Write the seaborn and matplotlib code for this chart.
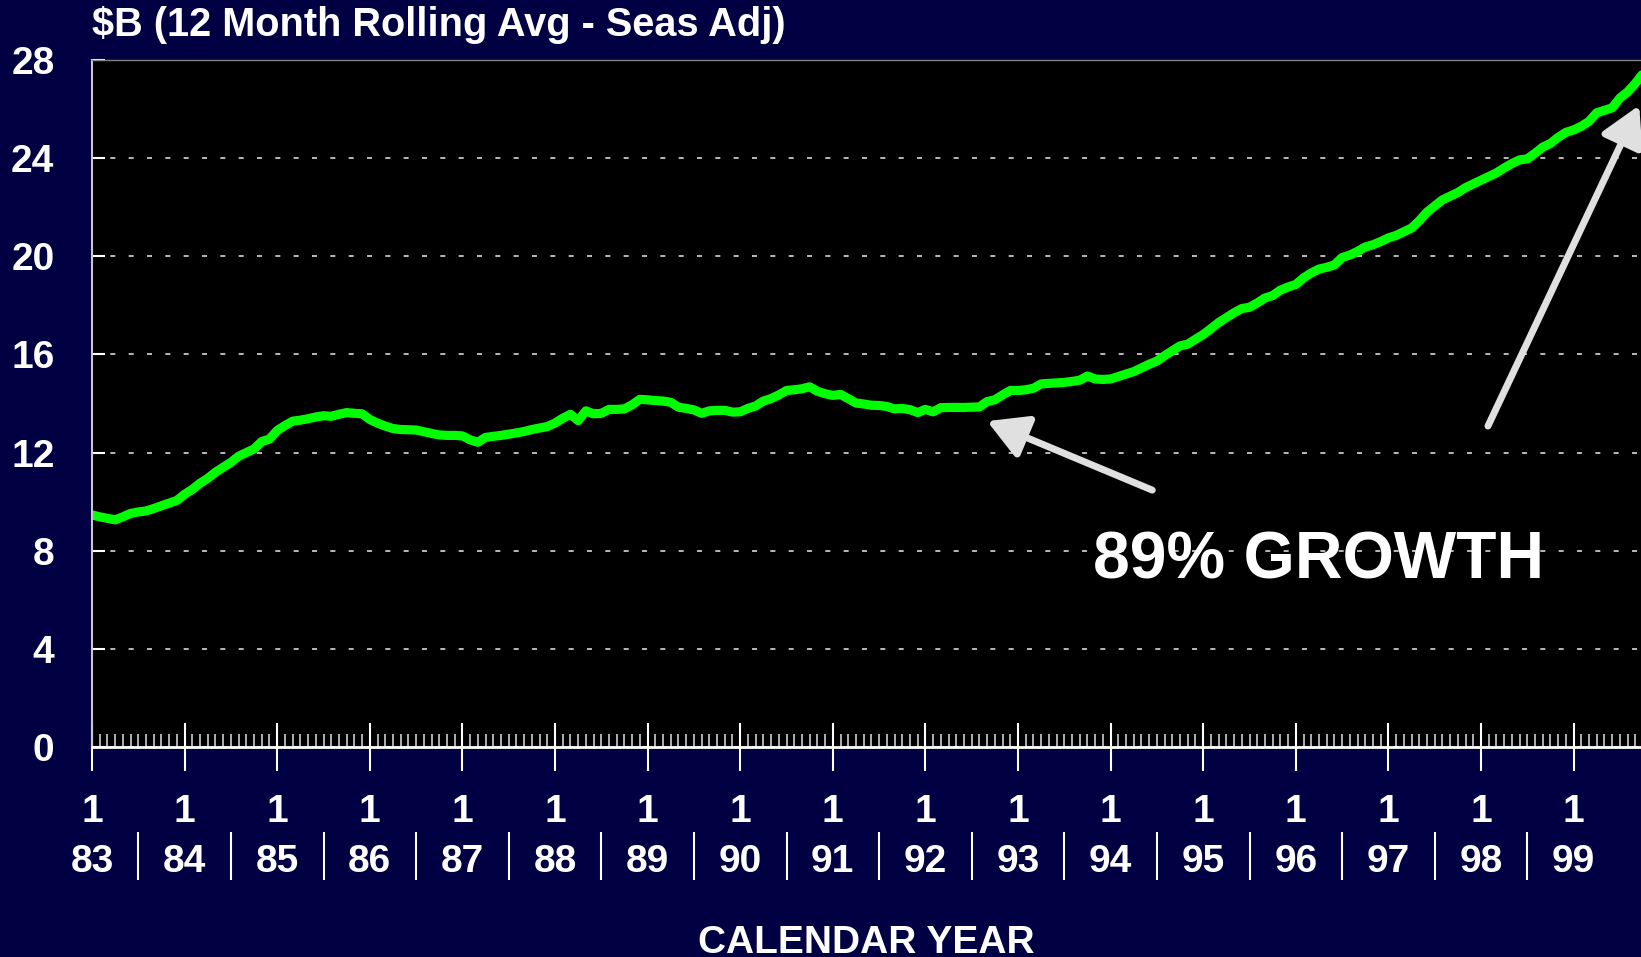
import numpy as np
import pandas as pd
import matplotlib
matplotlib.use("Agg")
import matplotlib.pyplot as plt
import seaborn as sns

# ---------------- data (monthly, Jan 1983 .. Oct 1999) ----------------
v1983 = [9.46, 9.38, 9.32, 9.26, 9.38, 9.52, 9.58, 9.62, 9.72, 9.83, 9.94, 10.05]
v1984 = [10.3, 10.5, 10.75, 10.95, 11.2, 11.4, 11.6, 11.85, 12.0, 12.15, 12.45, 12.55]
v1985 = [12.9, 13.1, 13.28, 13.32, 13.38, 13.45, 13.5, 13.48, 13.56, 13.63, 13.6, 13.58]
v1986 = [13.35, 13.2, 13.08, 12.98, 12.94, 12.93, 12.92, 12.85, 12.78, 12.72, 12.7, 12.7]
v1987 = [12.68, 12.52, 12.42, 12.62, 12.66, 12.7, 12.75, 12.8, 12.86, 12.94, 13.0, 13.06]
v1988 = [13.2, 13.4, 13.56, 13.3, 13.7, 13.58, 13.6, 13.76, 13.76, 13.78, 13.95, 14.17]
v1989 = [14.15, 14.12, 14.1, 14.05, 13.85, 13.8, 13.74, 13.6, 13.7, 13.72, 13.72, 13.65]
v1990 = [13.66, 13.8, 13.9, 14.1, 14.2, 14.35, 14.53, 14.56, 14.6, 14.68, 14.5, 14.4]
v1991 = [14.33, 14.37, 14.2, 14.02, 13.98, 13.93, 13.92, 13.88, 13.78, 13.8, 13.75, 13.63]
v1992 = [13.76, 13.66, 13.83, 13.84, 13.84, 13.84, 13.85, 13.86, 14.08, 14.15, 14.35, 14.53]
v1993 = [14.53, 14.56, 14.62, 14.8, 14.82, 14.84, 14.86, 14.9, 14.95, 15.12, 15.0, 14.98]
v1994 = [15.0, 15.1, 15.2, 15.3, 15.45, 15.6, 15.73, 15.95, 16.15, 16.35, 16.42, 16.62]
v1995 = [16.81, 17.05, 17.3, 17.5, 17.7, 17.87, 17.92, 18.1, 18.3, 18.4, 18.62, 18.75]
v1996 = [18.85, 19.12, 19.32, 19.48, 19.55, 19.65, 19.95, 20.05, 20.2, 20.38, 20.47, 20.6]
v1997 = [20.75, 20.85, 21.0, 21.15, 21.45, 21.8, 22.05, 22.3, 22.45, 22.6, 22.8, 22.95]
v1998 = [23.1, 23.25, 23.4, 23.6, 23.78, 23.93, 23.97, 24.2, 24.45, 24.6, 24.85, 25.05]
v1999 = [25.15, 25.3, 25.5, 25.85, 25.95, 26.05, 26.45, 26.7, 27.05, 27.45]

year_labels = ["83", "84", "85", "86", "87", "88", "89", "90", "91",
               "92", "93", "94", "95", "96", "97", "98", "99"]
month_label = "1"
ytick_values = [0, 4, 8, 12, 16, 20, 24, 28]
title_text = "$B (12 Month Rolling Avg - Seas Adj)"
xlabel_text = "CALENDAR YEAR"
growth_text = "89% GROWTH"

values = (v1983 + v1984 + v1985 + v1986 + v1987 + v1988 + v1989 + v1990 +
          v1991 + v1992 + v1993 + v1994 + v1995 + v1996 + v1997 + v1998 + v1999)
df = pd.DataFrame({"month": np.arange(len(values)), "value": values})

# ---------------- style ----------------
NAVY = "#000042"
sns.set_style("dark")
plt.rcParams["font.family"] = ["Liberation Sans", "DejaVu Sans"]
plt.rcParams["font.weight"] = "bold"

W, H = 1641, 957
fig = plt.figure(figsize=(W / 100, H / 100), dpi=100, facecolor=NAVY)
ax_left, ax_top, ax_bottom = 92, 60, 747
ax = fig.add_axes([ax_left / W, 1 - ax_bottom / H, 1 - ax_left / W, (ax_bottom - ax_top) / H])
ax.set_facecolor("black")

sns.lineplot(data=df, x="month", y="value", ax=ax, color="#00ff00",
             linewidth=6.6, zorder=3)

n_years = len(year_labels)
px_per_year = 92.6
ax.set_xlim(0, (W - ax_left) / px_per_year * 12)
ax.set_ylim(0, 28)

# y axis
ax.set_yticks(ytick_values)
ax.set_yticklabels([str(v) for v in ytick_values])
ax.tick_params(axis="y", left=True, direction="in", length=9, width=1.5, color="white",
               pad=27, labelsize=28, labelcolor="white")
ax.yaxis.grid(True, color="#d8d8d8", linestyle=(0, (3, 8)), linewidth=1.2)
ax.xaxis.grid(False)

# x axis
major = np.arange(n_years) * 12
ax.set_xticks(major)
ax.set_xticklabels([f"{month_label}\n{y}" for y in year_labels], linespacing=1.48,
                   fontweight="bold")
ax.set_xticks([m for m in range(0, int(ax.get_xlim()[1]) + 1) if m % 12 != 0], minor=True)
ax.tick_params(axis="x", which="major", bottom=True, direction="inout", length=34,
               width=1.5, color="white", pad=17, labelsize=28, labelcolor="white")
ax.tick_params(axis="x", which="minor", bottom=True, direction="in", length=9.5,
               width=1.1, color="#e0e0e0")
ax.set_xlabel("")
ax.set_ylabel("")

# separators between year labels
sec = ax.secondary_xaxis(-109 / (ax_bottom - ax_top))
sec.set_xticks(major[:-1] + 6)
sec.tick_params(bottom=True, direction="inout", length=34, width=1.5, color="white",
                labelbottom=False)
for s in sec.spines.values():
    s.set_visible(False)

# spines
ax.spines["left"].set_color("#c8c8c8")
ax.spines["left"].set_linewidth(1.5)
ax.spines["bottom"].set_color("white")
ax.spines["bottom"].set_linewidth(2)
ax.spines["top"].set_color("#808080")
ax.spines["top"].set_linewidth(1)
ax.spines["right"].set_visible(False)
for s in ax.spines.values():
    s.set_zorder(4)

# annotations
arrow_kw = dict(arrowstyle="-|>,head_length=0.8,head_width=0.45", color="#e0e0e0",
                lw=5, mutation_scale=30, shrinkA=0, shrinkB=0)
ax.annotate("", xy=(116.0, 13.28), xytext=(137.4, 10.47), arrowprops=arrow_kw,
            annotation_clip=False, zorder=5)
ax.annotate("", xy=(200.5, 26.15), xytext=(180.9, 13.08), arrowprops=arrow_kw,
            annotation_clip=False, zorder=5)
ax.text(129.7, 6.88, growth_text, ha="left", va="baseline", fontsize=47.5,
        fontweight="bold", color="white", zorder=6)

fig.text(ax_left / W, 1 - 36 / H, title_text, ha="left", va="baseline",
         fontsize=28.6, fontweight="bold", color="white")
fig.text((ax_left + W) / 2 / W, 1 - 953 / H, xlabel_text, ha="center", va="baseline",
         fontsize=28, fontweight="bold", color="white")

fig.savefig("out.png", dpi=100, facecolor=NAVY)
